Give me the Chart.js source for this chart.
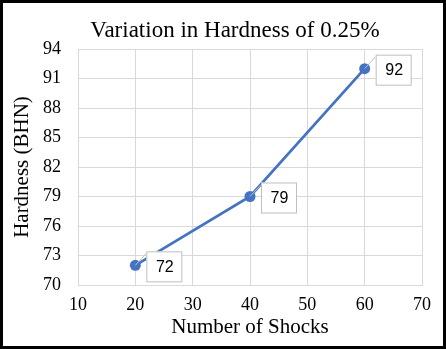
<!DOCTYPE html>
<html>
<head>
<meta charset="utf-8">
<script src="https://cdn.jsdelivr.net/npm/chart.js@4.4.0/dist/chart.umd.min.js"></script>
<style>
  html, body { margin: 0; padding: 0; background: #fff; }
  #wrap { width: 446px; height: 349px; }
</style>
</head>
<body>
<div id="wrap"><canvas id="hardnessChart" width="446" height="349"></canvas></div>
<script>
// shocks vs hardness
var shocks = [20, 40, 60];
var hardness = [72, 79, 92];
var xTicks = [10, 20, 30, 40, 50, 60, 70];
var yTicks = [70, 73, 76, 79, 82, 85, 88, 91, 94];
var chartTitle = 'Variation in Hardness of 0.25%';

var serif = "'Liberation Serif', 'DejaVu Serif', serif";

// title, boxed value labels with a short leader line, and the outer frame
var calloutPlugin = {
    id: 'callouts',
    afterDatasetsDraw: function (chart) {
        var c = chart.ctx;
        var meta = chart.getDatasetMeta(0);
        meta.data.forEach(function (pt, i) {
            var bx = pt.x + 11, by = pt.y - 14, bw = 35, bh = 30;
            c.save();
            c.strokeStyle = '#bfbfbf';
            c.lineWidth = 1;
            c.beginPath();
            c.moveTo(pt.x, pt.y);
            c.lineTo(bx, by + 2);
            c.stroke();
            c.fillStyle = '#fff';
            c.fillRect(bx, by, bw, bh);
            c.strokeRect(bx + 0.5, by + 0.5, bw, bh);
            c.fillStyle = '#000';
            c.font = "16px 'Liberation Sans', Arial, sans-serif";
            c.textAlign = 'center';
            c.textBaseline = 'middle';
            c.fillText(String(hardness[i]), bx + bw / 2 + 1, by + bh / 2 + 1);
            c.restore();
        });
    },
    afterDraw: function (chart) {
        var c = chart.ctx;
        c.save();
        c.fillStyle = '#000';
        c.font = '23px ' + serif;
        c.textAlign = 'center';
        c.textBaseline = 'alphabetic';
        c.fillText(chartTitle, 235, 37);
        c.strokeStyle = '#000';
        c.lineWidth = 3;
        c.strokeRect(1.5, 1.5, chart.width - 3, chart.height - 3);
        c.restore();
    }
};

var ctx = document.getElementById('hardnessChart').getContext('2d');
var hardnessChart = new Chart(ctx, {
    type: 'scatter',
    data: {
        datasets: [{
            label: 'Hardness',
            data: shocks.map(function (s, i) { return { x: s, y: hardness[i] }; }),
            showLine: true,
            borderColor: '#4472C4',
            backgroundColor: '#4472C4',
            borderWidth: 2.75,
            pointRadius: 5.5,
            pointBorderWidth: 0
        }]
    },
    options: {
        responsive: false,
        animation: false,
        layout: { padding: { top: 49, right: 24, bottom: 9, left: 0 } },
        plugins: {
            legend: { display: false },
            tooltip: { enabled: false },
            title: { display: false }
        },
        scales: {
            x: {
                type: 'linear',
                min: 10, max: 70,
                afterBuildTicks: function (scale) {
                    scale.ticks = xTicks.map(function (v) { return { value: v }; });
                },
                grid: { color: '#d9d9d9', drawTicks: false },
                border: { color: '#d9d9d9' },
                ticks: { color: '#000', padding: 9, font: { family: serif, size: 18 } },
                title: {
                    display: true,
                    text: 'Number of Shocks',
                    color: '#000',
                    padding: { top: 0, bottom: 0 },
                    font: { family: serif, size: 21 }
                },
                afterFit: function (scale) { scale.height = 55; }
            },
            y: {
                min: 70, max: 94,
                afterBuildTicks: function (scale) {
                    scale.ticks = yTicks.map(function (v) { return { value: v }; });
                },
                grid: { color: '#d9d9d9', drawTicks: false },
                border: { color: '#d9d9d9' },
                ticks: { color: '#000', padding: 17, font: { family: serif, size: 18 } },
                title: {
                    display: true,
                    text: 'Hardness (BHN)',
                    color: '#000',
                    padding: { top: 10, bottom: 0 },
                    font: { family: serif, size: 21 }
                },
                afterFit: function (scale) { scale.width = 78; }
            }
        }
    },
    plugins: [calloutPlugin]
});
</script>
</body>
</html>
